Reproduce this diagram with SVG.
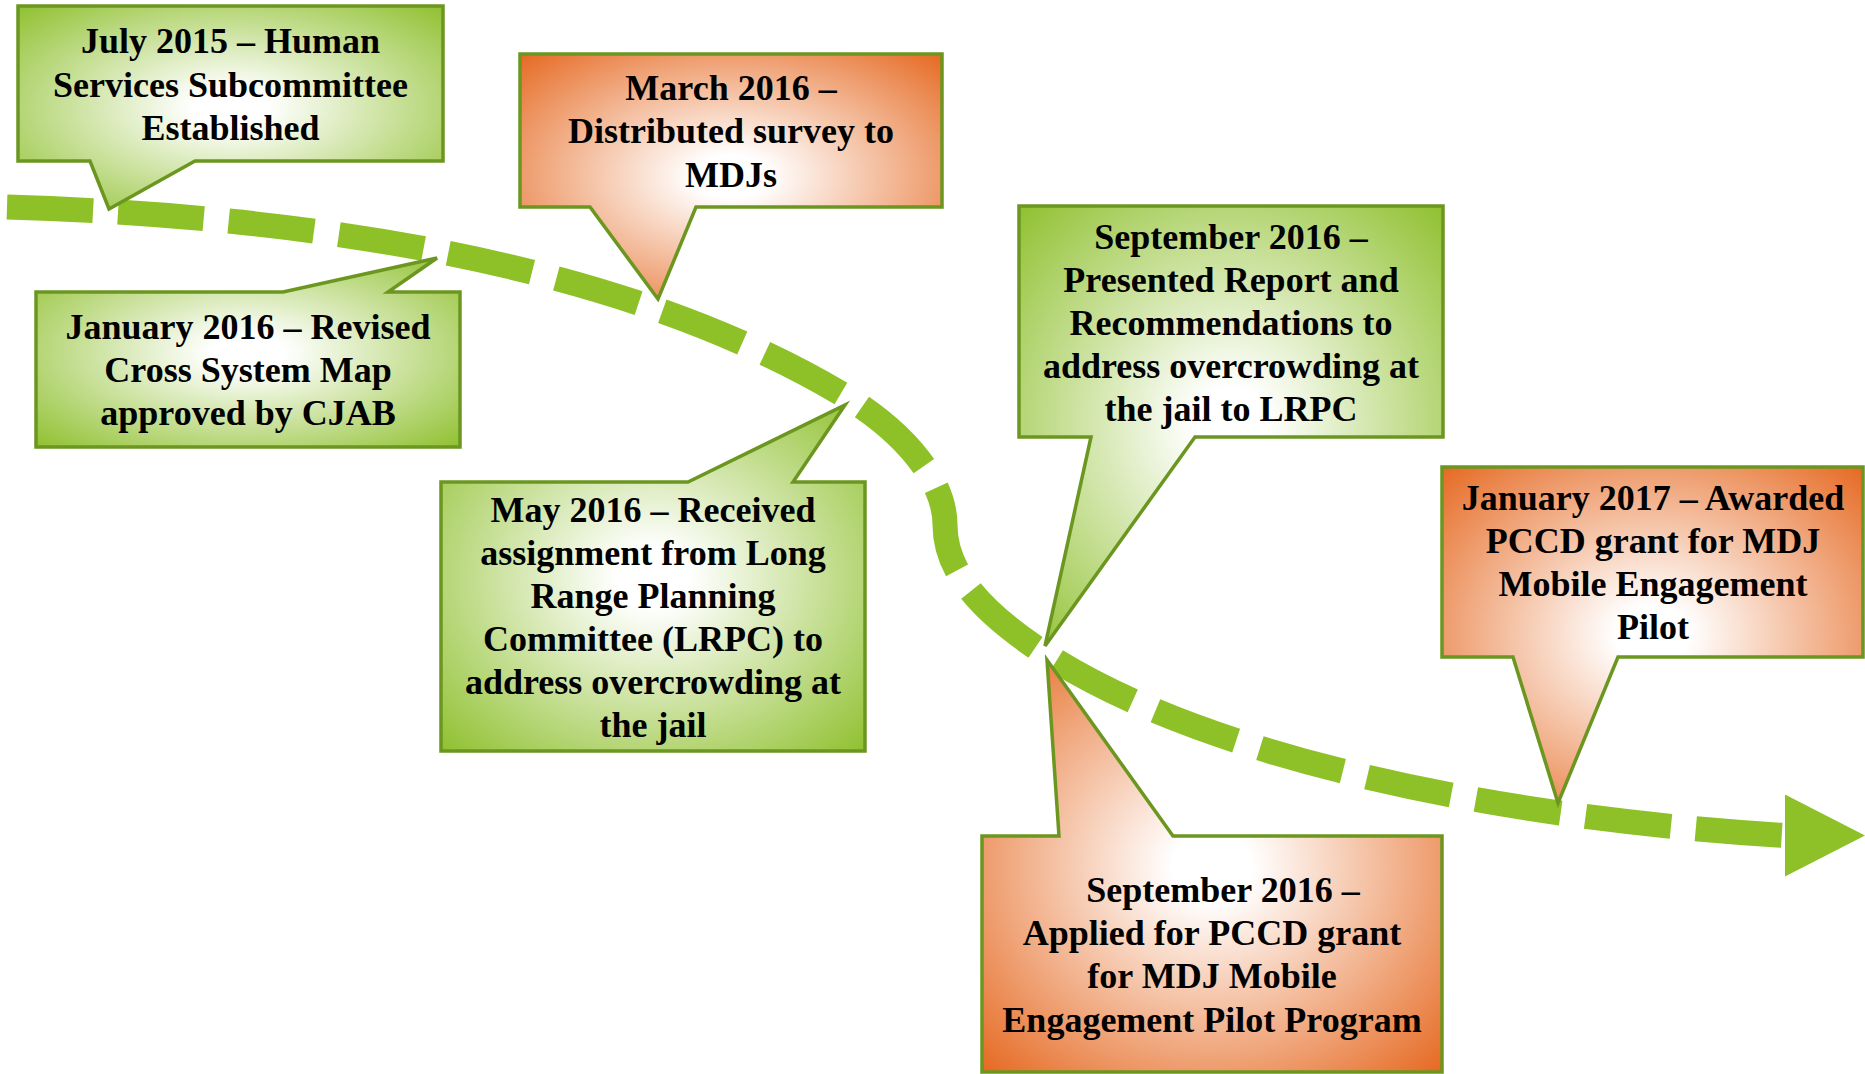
<svg xmlns="http://www.w3.org/2000/svg" width="1865" height="1074" viewBox="0 0 1865 1074">
<defs>
<radialGradient id="gGreen" cx="0.5" cy="0.5" r="0.72">
<stop offset="0" stop-color="#ffffff"/>
<stop offset="0.12" stop-color="#ffffff"/>
<stop offset="1" stop-color="#8dbf2b"/>
</radialGradient>
<radialGradient id="gOrange" cx="0.5" cy="0.5" r="0.72">
<stop offset="0" stop-color="#ffffff"/>
<stop offset="0.12" stop-color="#ffffff"/>
<stop offset="1" stop-color="#e5661d"/>
</radialGradient>
<marker id="arrow" markerUnits="userSpaceOnUse" viewBox="0 0 80 82" markerWidth="80" markerHeight="82" refX="0" refY="41" orient="0">
<path d="M0,0 L80,41 L0,82 Z" fill="#8dc127"/>
</marker>
</defs>
<style>
.green{fill:url(#gGreen);stroke:#6b961f;stroke-width:3.5;stroke-linejoin:miter}
.orange{fill:url(#gOrange);stroke:#6b961f;stroke-width:3.5;stroke-linejoin:miter}
.lbl{font-family:"Liberation Serif","Times New Roman",serif;font-weight:bold;font-size:36px;fill:#000;text-anchor:middle}
.timeline{fill:none;stroke:#8dc127;stroke-width:25;stroke-dasharray:86 25}
</style>
<rect width="1865" height="1074" fill="#ffffff"/>
<g id="connectors">
<path class="timeline" marker-end="url(#arrow)" d="M7,207 C357,217.5 645,276 845,396 C895,426 945,475 945,525 C945,575 987,616 1047,655 C1177,739.5 1435,814 1785,835.5"/>
</g>
<g id="node-jul2015">
<path class="green" d="M18,6 H443 V161 H195 L109,209 L90,161 H18 Z"/>
<text class="lbl" x="230.5" y="53">July 2015 – Human</text>
<text class="lbl" x="230.5" y="96.5">Services Subcommittee</text>
<text class="lbl" x="230.5" y="139.5">Established</text>
</g>
<g id="node-jan2016">
<path class="green" d="M36,292 H283 L437,258 L388,292 H460 V447 H36 Z"/>
<text class="lbl" x="248" y="339">January 2016 – Revised</text>
<text class="lbl" x="248" y="382">Cross System Map</text>
<text class="lbl" x="248" y="425">approved by CJAB</text>
</g>
<g id="node-mar2016">
<path class="orange" d="M520,54 H942 V207 H696 L658,299 L590,207 H520 Z"/>
<text class="lbl" x="731" y="100">March 2016 –</text>
<text class="lbl" x="731" y="143">Distributed survey to</text>
<text class="lbl" x="731" y="186.5">MDJs</text>
</g>
<g id="node-may2016">
<path class="green" d="M441,482 H688 L845,405 L793,482 H865 V751 H441 Z"/>
<text class="lbl" x="653" y="521.5">May 2016 – Received</text>
<text class="lbl" x="653" y="564.5">assignment from Long</text>
<text class="lbl" x="653" y="607.5">Range Planning</text>
<text class="lbl" x="653" y="650.5">Committee (LRPC) to</text>
<text class="lbl" x="653" y="693.5">address overcrowding at</text>
<text class="lbl" x="653" y="736.5">the jail</text>
</g>
<g id="node-sep2016-report">
<path class="green" d="M1019,206 H1443 V437 H1195 L1045,646 L1091,437 H1019 Z"/>
<text class="lbl" x="1231" y="248.5">September 2016 –</text>
<text class="lbl" x="1231" y="291.5">Presented Report and</text>
<text class="lbl" x="1231" y="334.5">Recommendations to</text>
<text class="lbl" x="1231" y="377.5">address overcrowding at</text>
<text class="lbl" x="1231" y="420.5">the jail to LRPC</text>
</g>
<g id="node-jan2017">
<path class="orange" d="M1442,467 H1863 V657 H1618 L1558,803 L1513,657 H1442 Z"/>
<text class="lbl" x="1653" y="510">January 2017 – Awarded</text>
<text class="lbl" x="1653" y="553">PCCD grant for MDJ</text>
<text class="lbl" x="1653" y="596">Mobile Engagement</text>
<text class="lbl" x="1653" y="639">Pilot</text>
</g>
<g id="node-sep2016-grant">
<path class="orange" d="M982,836 H1059 L1047,660 L1173,836 H1442 V1072 H982 Z"/>
<text class="lbl" x="1223" y="902">September 2016 –</text>
<text class="lbl" x="1212" y="945">Applied for PCCD grant</text>
<text class="lbl" x="1212" y="988">for MDJ Mobile</text>
<text class="lbl" x="1212" y="1031.5">Engagement Pilot Program</text>
</g>
</svg>
